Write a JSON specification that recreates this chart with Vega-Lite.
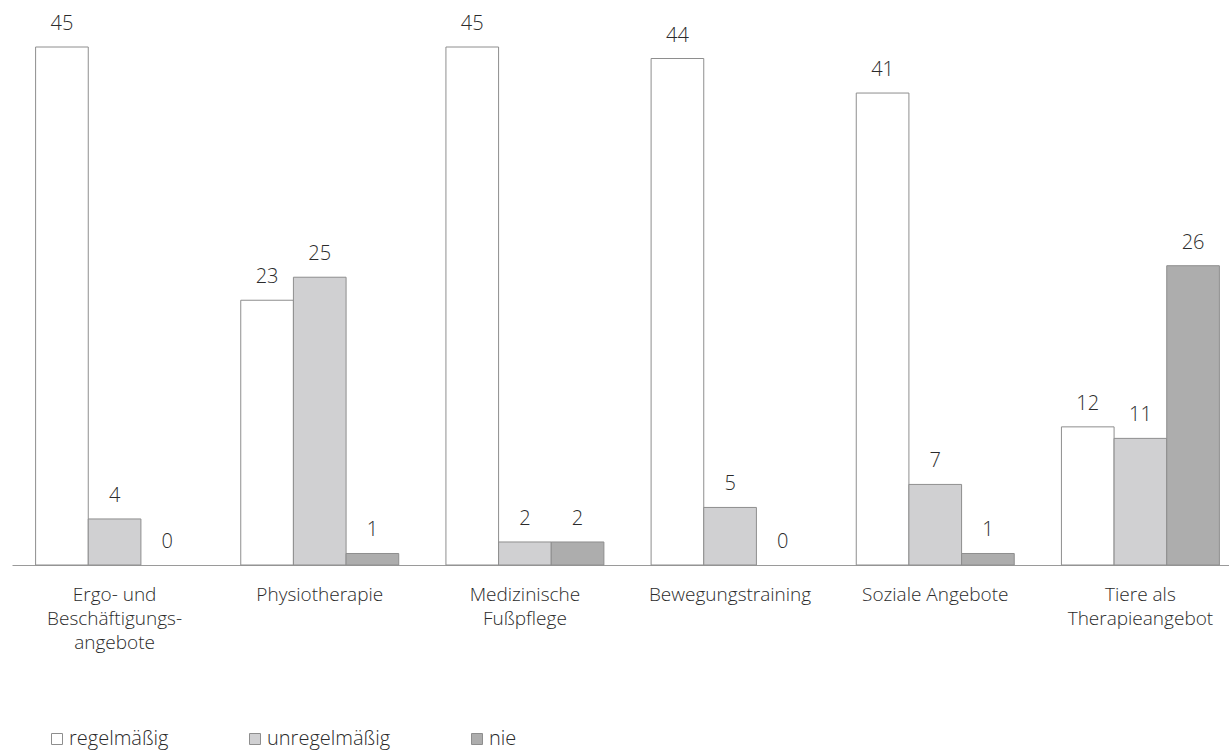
{
  "$schema": "https://vega.github.io/schema/vega-lite/v6.json",
  "autosize": {"type": "none"},
  "width": 1217,
  "height": 518,
  "padding": {"left": 12, "top": 47, "right": 0, "bottom": 188},
  "background": "white",
  "config": {
    "view": {"stroke": null},
    "font": "Open Sans",
    "text": {"font": "Open Sans"}
  },
  "data": {
    "values": [
      {"angebot": "Ergo- und\nBeschäftigungs-\nangebote", "haeufigkeit": "regelmäßig", "anzahl": 45},
      {"angebot": "Ergo- und\nBeschäftigungs-\nangebote", "haeufigkeit": "unregelmäßig", "anzahl": 4},
      {"angebot": "Ergo- und\nBeschäftigungs-\nangebote", "haeufigkeit": "nie", "anzahl": 0},
      {"angebot": "Physiotherapie", "haeufigkeit": "regelmäßig", "anzahl": 23},
      {"angebot": "Physiotherapie", "haeufigkeit": "unregelmäßig", "anzahl": 25},
      {"angebot": "Physiotherapie", "haeufigkeit": "nie", "anzahl": 1},
      {"angebot": "Medizinische\nFußpflege", "haeufigkeit": "regelmäßig", "anzahl": 45},
      {"angebot": "Medizinische\nFußpflege", "haeufigkeit": "unregelmäßig", "anzahl": 2},
      {"angebot": "Medizinische\nFußpflege", "haeufigkeit": "nie", "anzahl": 2},
      {"angebot": "Bewegungstraining", "haeufigkeit": "regelmäßig", "anzahl": 44},
      {"angebot": "Bewegungstraining", "haeufigkeit": "unregelmäßig", "anzahl": 5},
      {"angebot": "Bewegungstraining", "haeufigkeit": "nie", "anzahl": 0},
      {"angebot": "Soziale Angebote", "haeufigkeit": "regelmäßig", "anzahl": 41},
      {"angebot": "Soziale Angebote", "haeufigkeit": "unregelmäßig", "anzahl": 7},
      {"angebot": "Soziale Angebote", "haeufigkeit": "nie", "anzahl": 1},
      {"angebot": "Tiere als\nTherapieangebot", "haeufigkeit": "regelmäßig", "anzahl": 12},
      {"angebot": "Tiere als\nTherapieangebot", "haeufigkeit": "unregelmäßig", "anzahl": 11},
      {"angebot": "Tiere als\nTherapieangebot", "haeufigkeit": "nie", "anzahl": 26}
    ]
  },
  "encoding": {
    "x": {
      "field": "angebot",
      "type": "nominal",
      "sort": null,
      "title": null,
      "scale": {"range": [0, 1231], "paddingInner": 0.23, "paddingOuter": 0.115},
      "axis": {
        "labelAngle": 0,
        "labelExpr": "split(datum.label, '\\n')",
        "labelFont": "Open Sans",
        "labelFontWeight": 300,
        "labelFontSize": 19,
        "labelColor": "#2b2b2b",
        "labelLineHeight": 24,
        "labelPadding": 20,
        "ticks": false,
        "grid": false,
        "domainColor": "#9a9a9a",
        "domainWidth": 1
      }
    },
    "xOffset": {
      "field": "haeufigkeit",
      "type": "nominal",
      "sort": ["regelmäßig", "unregelmäßig", "nie"],
      "scale": {"paddingInner": 0, "paddingOuter": 0}
    },
    "y": {
      "field": "anzahl",
      "type": "quantitative",
      "scale": {"domain": [0, 45], "nice": false},
      "axis": null
    }
  },
  "layer": [
    {
      "transform": [{"filter": "datum.anzahl > 0"}],
      "mark": {"type": "bar", "stroke": "#8e8e8e", "strokeWidth": 1},
      "encoding": {
        "fill": {
          "field": "haeufigkeit",
          "type": "nominal",
          "sort": ["regelmäßig", "unregelmäßig", "nie"],
          "scale": {
            "domain": ["regelmäßig", "unregelmäßig", "nie"],
            "range": ["#ffffff", "#d0d0d2", "#adadad"]
          },
          "legend": {
            "title": null,
            "orient": "none",
            "direction": "horizontal",
            "legendX": 35,
            "legendY": 682,
            "symbolType": "square",
            "symbolSize": 121,
            "symbolStrokeColor": "#8e8e8e",
            "symbolStrokeWidth": 1,
            "labelFont": "Open Sans",
            "labelFontWeight": 300,
            "labelFontSize": 20,
            "labelColor": "#2b2b2b",
            "labelOffset": 2,
            "columnPadding": 76
          }
        }
      }
    },
    {
      "mark": {
        "type": "text",
        "baseline": "alphabetic",
        "dy": -17,
        "fontSize": 20,
        "fontWeight": 300,
        "color": "#2b2b2b"
      },
      "encoding": {
        "text": {"field": "anzahl", "type": "quantitative"}
      }
    }
  ]
}
